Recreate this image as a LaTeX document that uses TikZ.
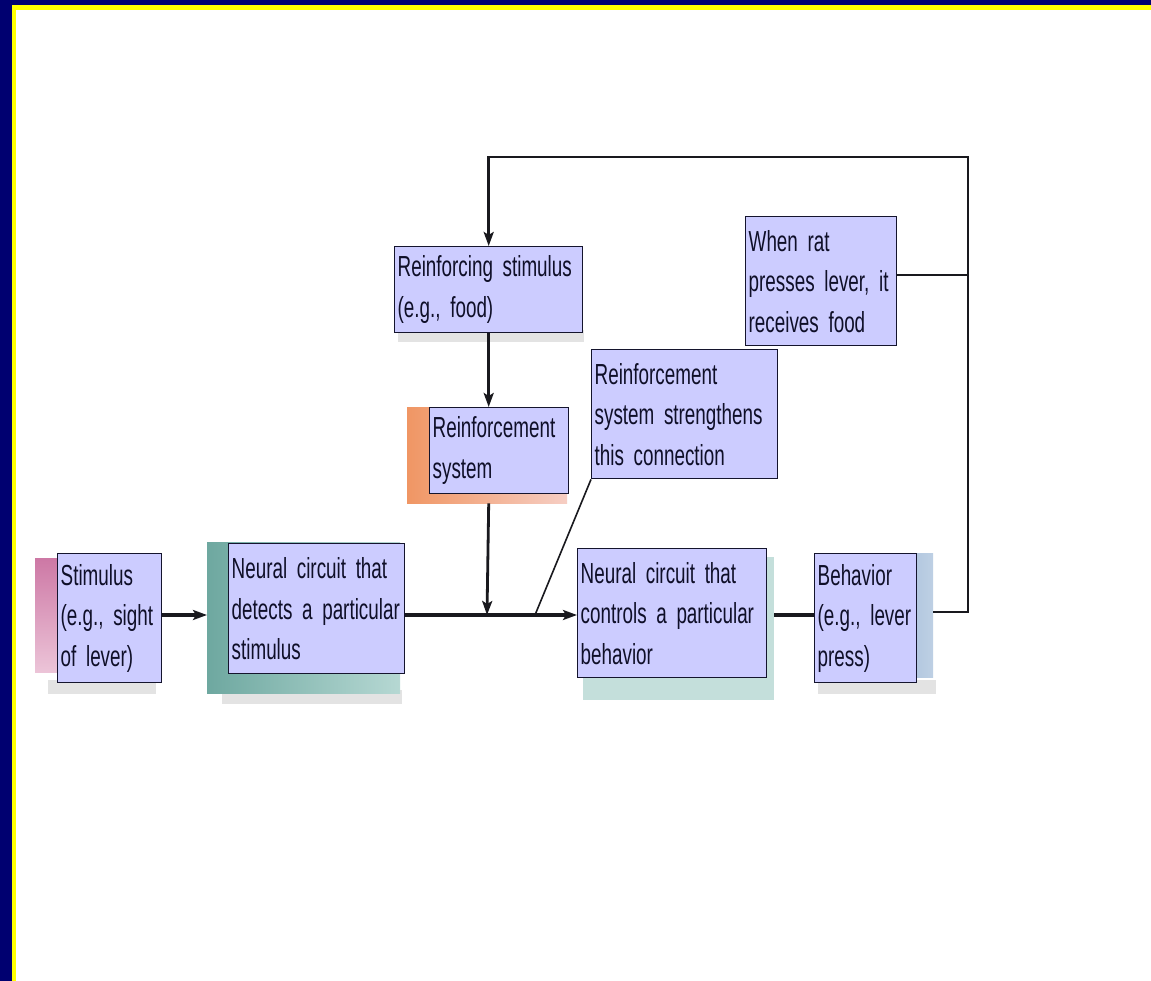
\documentclass[tikz,border=0pt]{standalone}
\usepackage{fontspec}
\newfontfamily\boxfont{Liberation Sans}[FakeStretch=0.65]
\usetikzlibrary{arrows.meta}
\definecolor{boxfill}{RGB}{204,204,255}
\definecolor{boxline}{RGB}{20,20,45}
\definecolor{textcol}{RGB}{15,15,40}
\definecolor{framenavy}{RGB}{0,0,112}
\definecolor{frameyellow}{RGB}{255,255,0}
\definecolor{lnc}{RGB}{25,25,30}
\newcommand\ml[1]{\mbox{#1}}
\begin{document}
\begin{tikzpicture}[x=1pt,y=-1pt,
  box/.style={draw=boxline, fill=boxfill, line width=1.4pt, anchor=north west,
    align=left, inner xsep=3pt, inner ysep=0pt, text=textcol,
    font={\boxfont\fontsize{29}{40.5}\selectfont}},
  shad/.style={draw=none, anchor=north west, inner sep=0pt},
  grsh/.style={shad, fill=black!11},
  arr/.style={-{Stealth[length=14pt,width=10pt,inset=3pt]}},
  thickln/.style={draw=lnc, line width=3.8pt},
  midln/.style={draw=lnc, line width=2.8pt},
  thinln/.style={draw=lnc, line width=1.6pt}]
\useasboundingbox (0,0) rectangle (1151,981);
\fill[white] (0,0) rectangle (1151,981);
% frame
\fill[framenavy] (0,0) rectangle (1151,5);
\fill[framenavy] (0,0) rectangle (12,981);
\fill[frameyellow] (12,5) rectangle (1151,10);
\fill[frameyellow] (12,5) rectangle (16,981);

% shadows
\node[grsh, minimum width=108pt, minimum height=14pt] (stimgr) at (48,680) {};
\node[shad, minimum width=30pt, minimum height=114pt,
  top color={rgb,255:red,205;green,120;blue,165}, bottom color={rgb,255:red,236;green,196;blue,216}] (stimsh) at (35,558) {};
\node[grsh, minimum width=180pt, minimum height=14pt] (ndetgr) at (222,690) {};
\node[shad, minimum width=193pt, minimum height=151pt,
  left color={rgb,255:red,110;green,168;blue,160}, right color={rgb,255:red,182;green,216;blue,211}] (ndetsh) at (207,542) {};
\node[grsh, minimum width=186pt, minimum height=12pt] (rstimgr) at (398,330) {};
\node[shad, minimum width=160pt, minimum height=96pt,
  left color={rgb,255:red,240;green,150;blue,100}, right color={rgb,255:red,246;green,206;blue,196}] (rsyssh) at (407,407) {};
\node[shad, minimum width=191pt, minimum height=143pt,
  fill={rgb,255:red,196;green,223;blue,219}] (ctrlsh) at (583,557) {};
\node[grsh, minimum width=118pt, minimum height=14pt] (behgr) at (818,680) {};
\node[shad, minimum width=63pt, minimum height=124pt,
  left color={rgb,255:red,150;green,178;blue,212}, right color={rgb,255:red,190;green,208;blue,228}] (behsh) at (870,553) {};

% boxes
\node[box, minimum width=104pt, minimum height=129pt, text width=98pt] (stim) at (57,553)
  {\ml{Stimulus}\\\ml{(e.g., sight}\\\ml{of lever)}};
\node[box, minimum width=176pt, minimum height=130pt, text width=170pt] (ndet) at (228,543)
  {\ml{Neural circuit that}\\\ml{detects a particular}\\\ml{stimulus}};
\node[box, minimum width=188pt, minimum height=86pt, text width=182pt] (rstim) at (394,246)
  {\ml{Reinforcing stimulus}\\\ml{(e.g., food)}};
\node[box, minimum width=139pt, minimum height=86pt, text width=133pt] (rsys) at (429,407)
  {\ml{Reinforcement}\\\ml{system}};
\node[box, minimum width=186pt, minimum height=129pt, text width=180pt] (str) at (591,349)
  {\ml{Reinforcement}\\\ml{system strengthens}\\\ml{this connection}};
\node[box, minimum width=151pt, minimum height=129pt, text width=145pt] (rat) at (745,216)
  {\ml{When rat}\\\ml{presses lever, it}\\\ml{receives food}};
\node[box, minimum width=189pt, minimum height=129pt, text width=183pt] (ctrl) at (577,548)
  {\ml{Neural circuit that}\\\ml{controls a particular}\\\ml{behavior}};
\node[box, minimum width=102pt, minimum height=129pt, text width=96pt] (beh) at (814,553)
  {\ml{Behavior}\\\ml{(e.g., lever}\\\ml{press)}};

% connector points
\coordinate (j) at (487,615);
\coordinate (sj) at (535,615);
\coordinate (fb) at (968,612);
\coordinate (tr) at (968,157);

% connectors
\draw[thickln, arr] (stim.east |- j) -- (ndetsh.west |- j);
\draw[thickln, arr] (ndet.east |- j) -- (ctrl.west |- j);
\draw[midln, arr] (rstim.south) -- (rsys.north -| rstim.south);
\draw[midln, arr] (rsyssh.south -| rstim.south) -- (j);
\draw[thinln] (str.south west) -- (sj);
\draw[thickln] (ctrlsh.east |- j) -- (beh.west |- j);
\draw[midln, arr] (behsh.east |- fb) -- (fb) -- (tr) -| (rstim.north);
\draw[thinln] ([yshift=6pt]rat.east) -- ([yshift=6pt]rat.east -| tr);
\end{tikzpicture}
\end{document}
